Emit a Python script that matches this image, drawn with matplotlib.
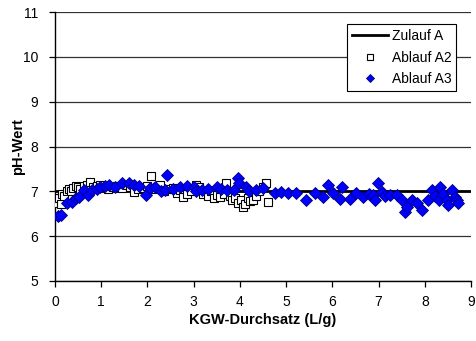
#!/usr/bin/env python
# -*- coding: utf-8 -*-
"""pH-Wert über KGW-Durchsatz: Zulauf A, Ablauf A2, Ablauf A3."""

import matplotlib as mpl; mpl.use('agg')
import matplotlib.pyplot as plt

# --- data
zulauf_x = [0, 9]
zulauf_y = [7.0, 7.0]

a2_x = [0.05, 0.08, 0.12, 0.15, 0.2, 0.25, 0.3, 0.35, 0.4, 0.45,
        0.5, 0.55, 0.62, 0.7, 0.76, 0.82, 0.9, 0.98, 1.05, 1.15,
        1.25, 1.35, 1.45, 1.55, 1.62, 1.7, 1.8, 1.9, 2.0, 2.07,
        2.12, 2.2, 2.27, 2.35, 2.45, 2.55, 2.63, 2.7, 2.77, 2.85,
        2.95, 3.04, 3.12, 3.2, 3.3, 3.37, 3.45, 3.5, 3.58, 3.65,
        3.7, 3.78, 3.84, 3.9, 3.96, 4.02, 4.06, 4.12, 4.18, 4.22,
        4.28, 4.35, 4.42, 4.5, 4.57, 4.6]
a2_y = [6.75, 6.85, 6.72, 6.95, 6.9, 7.0, 7.05, 7.0, 7.08, 7.12,
        7.1, 7.05, 7.12, 7.15, 7.2, 7.1, 7.12, 7.15, 7.1, 7.05,
        7.1, 7.12, 7.08, 7.15, 7.1, 6.98, 7.05, 7.08, 7.12, 7.34,
        7.05, 7.1, 7.15, 7.0, 7.05, 7.08, 6.96, 7.02, 6.88, 6.95,
        7.0, 7.14, 7.1, 6.95, 6.9, 7.0, 6.85, 6.92, 6.88, 6.95,
        7.18, 6.9, 6.81, 6.85, 6.75, 6.8, 6.66, 6.72, 6.85, 6.78,
        6.81, 6.9, 7.0, 7.1, 7.18, 6.77]

a3_x = [0.07, 0.12, 0.25, 0.36, 0.45, 0.51, 0.62, 0.72, 0.8, 0.9,
        0.98, 1.08, 1.16, 1.3, 1.45, 1.6, 1.7, 1.81, 1.96, 2.05,
        2.17, 2.3, 2.39, 2.43, 2.55, 2.7, 2.85, 3.0, 3.04, 3.19,
        3.3, 3.51, 3.6, 3.73, 3.88, 3.95, 3.99, 4.13, 4.2, 4.35,
        4.49, 4.75, 4.9, 5.04, 5.22, 5.43, 5.62, 5.8, 5.9, 6.01,
        6.16, 6.2, 6.38, 6.52, 6.67, 6.8, 6.88, 6.92, 6.98, 7.08,
        7.15, 7.25, 7.39, 7.5, 7.57, 7.61, 7.72, 7.83, 7.93, 8.08,
        8.15, 8.22, 8.3, 8.33, 8.4, 8.48, 8.51, 8.59, 8.65, 8.7,
        8.72]
a3_y = [6.46, 6.48, 6.73, 6.77, 6.85, 6.88, 7.03, 6.92, 7.03, 7.05,
        7.1, 7.12, 7.14, 7.1, 7.18, 7.18, 7.14, 7.12, 6.92, 7.08,
        7.1, 7.0, 7.03, 7.37, 7.05, 7.1, 7.12, 7.1, 7.0, 7.03,
        7.05, 7.1, 7.05, 7.03, 7.03, 7.29, 7.18, 7.1, 7.0, 7.03,
        7.07, 6.96, 6.98, 6.96, 6.96, 6.81, 6.96, 6.88, 7.14, 6.96,
        6.82, 7.1, 6.82, 6.96, 6.88, 6.95, 6.92, 6.81, 7.18, 6.98,
        6.9, 6.92, 6.92, 6.81, 6.55, 6.66, 6.81, 6.73, 6.58, 6.81,
        7.03, 6.9, 6.81, 7.1, 6.95, 6.81, 6.7, 7.03, 6.88, 6.81,
        6.73]

labels = ["Zulauf A", "Ablauf A2", "Ablauf A3"]

plt.rcParams['font.family'] = ['Liberation Sans', 'DejaVu Sans']

fig = plt.figure(figsize=(4.76, 3.41), dpi=100)
ax = fig.add_axes([55/476, 60/341, 416/476, 269/341])

# --- series
ax.plot(zulauf_x, zulauf_y, color='black', lw=2, label=labels[0], zorder=3)
ax.plot(a2_x, a2_y, ls='none', marker='s', ms=6, mfc='white', mec='black',
        mew=0.8, label=labels[1], zorder=4)
ax.plot(a3_x, a3_y, ls='none', marker='D', ms=6, mfc='#0000ff', mec='#000080',
        mew=0.6, label=labels[2], zorder=5)

# --- axes
ax.set_xlim(0, 9)
ax.set_ylim(5, 11)
ax.set_xticks(range(0, 10))
ax.set_yticks(range(5, 12))
ax.yaxis.grid(True, color='#333333', lw=0.9)
ax.set_axisbelow(True)
for s in ['top', 'right']:
    ax.spines[s].set_visible(False)
for s in ['left', 'bottom']:
    ax.spines[s].set_linewidth(1.0)
ax.tick_params(direction='out', length=4, width=0.9, labelsize=10)
ax.tick_params(axis='y', pad=8)
ax.tick_params(axis='x', pad=6)
ax.set_xlabel("KGW-Durchsatz (L/g)", fontsize=10.5, fontweight='bold', labelpad=3)
ax.set_ylabel("pH-Wert", fontsize=10.5, fontweight='bold')
ax.yaxis.set_label_coords(-0.072, 0.5)

leg = ax.legend(loc='upper right', bbox_to_anchor=(0.965, 0.955), fontsize=10,
                frameon=True, fancybox=False, framealpha=1, edgecolor='black',
                borderpad=0.35, labelspacing=0.55, handlelength=2.6,
                handletextpad=0.3, borderaxespad=0, markerscale=0.65)
leg.get_frame().set_linewidth(0.8)

fig.savefig('out.png', dpi=100)
